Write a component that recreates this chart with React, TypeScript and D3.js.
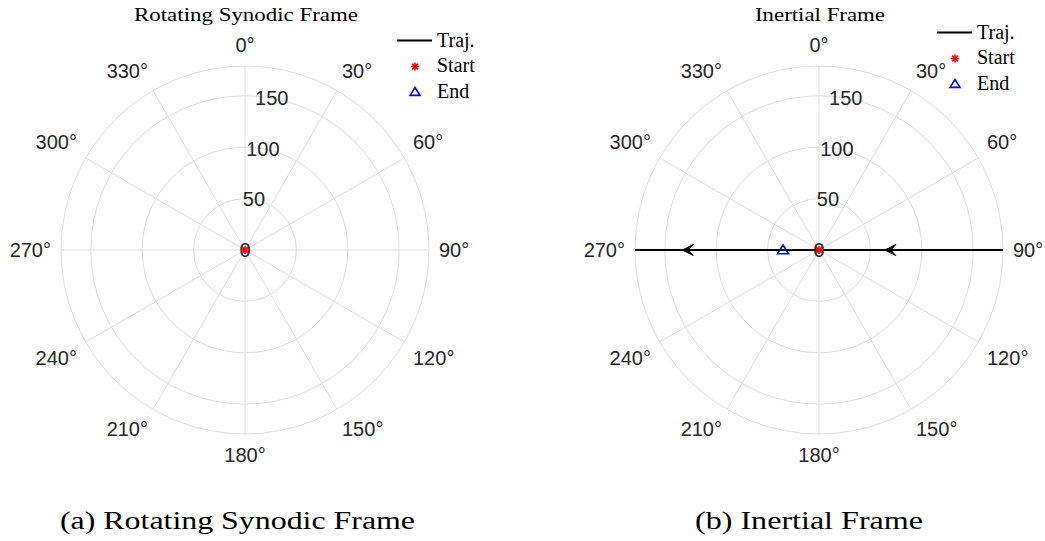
import React from "react";
import * as d3 from "d3";

// Polar grid settings shared by both panels
const R_MAX = 179;
const R_TICKS = [0, 50, 100, 150];
const THETA_TICKS = [0, 30, 60, 90, 120, 150, 180, 210, 240, 270, 300, 330];
const R_LABEL_ANGLE = 10;

// Rotating synodic frame: the trajectory stays at the origin
const synodicTheta = [0, 0];
const synodicR = [0, 0];
const synodicStart = { theta: 0, r: 0 };

// Inertial frame: straight pass along the 90°–270° axis
const inertialTheta = [90, 90, 90, 270, 270, 270];
const inertialR = [179, 90, 0, 0, 90, 179];
const inertialArrows = [
  { theta: 90, r: 64, dir: 270 },
  { theta: 270, r: 133, dir: 270 },
];
const inertialStart = { theta: 0, r: 0 };
const inertialEnd = { theta: 270, r: 35 };

const W = 1045;
const H = 541;
const RADIUS = 184;
const TICK_FONT = "'Liberation Sans', Arial, Helvetica, sans-serif";
const SERIF = "'Liberation Serif', 'Times New Roman', serif";
const TEXT = "#262626";
const GRID = "#dedede";

const rScale = d3.scaleLinear().domain([0, R_MAX]).range([0, RADIUS]);

function pt(cx: number, cy: number, thetaDeg: number, rPx: number): [number, number] {
  const a = (thetaDeg * Math.PI) / 180;
  return [cx + rPx * Math.sin(a), cy - rPx * Math.cos(a)];
}

function Asterisk({ x, y, s, color }: { x: number; y: number; s: number; color: string }) {
  const lines = [0, 45, 90, 135].map((deg) => {
    const a = (deg * Math.PI) / 180;
    return (
      <line
        key={deg}
        x1={x - s * Math.cos(a)}
        y1={y - s * Math.sin(a)}
        x2={x + s * Math.cos(a)}
        y2={y + s * Math.sin(a)}
        stroke={color}
        strokeWidth={1.6}
      />
    );
  });
  return <g>{lines}</g>;
}

function Triangle({ x, y, s, color }: { x: number; y: number; s: number; color: string }) {
  const d = `M${x},${y - s}L${x + s * 1.1},${y + s * 0.75}L${x - s * 1.1},${y + s * 0.75}Z`;
  return <path d={d} fill="none" stroke={color} strokeWidth={1.6} strokeLinejoin="miter" />;
}

type PanelProps = {
  cx: number;
  cy: number;
  title: string;
  titleLen: number;
  theta: number[];
  r: number[];
  start: { theta: number; r: number };
  end: { theta: number; r: number } | null;
  arrows: { theta: number; r: number; dir: number }[];
  legend: { x: number; y: number };
};

function PolarPanel(p: PanelProps) {
  const { cx, cy } = p;
  const line = d3
    .line<number>()
    .x((_, i) => pt(cx, cy, p.theta[i], rScale(p.r[i]))[0])
    .y((_, i) => pt(cx, cy, p.theta[i], rScale(p.r[i]))[1]);
  const trajPath = line(p.theta) || "";

  const [sx, sy] = pt(cx, cy, p.start.theta, rScale(p.start.r));
  const endPt = p.end ? pt(cx, cy, p.end.theta, rScale(p.end.r)) : null;

  return (
    <g>
      {/* rings */}
      {R_TICKS.filter((v) => v > 0).map((v) => (
        <circle key={v} cx={cx} cy={cy} r={rScale(v)} fill="none" stroke={GRID} strokeWidth={1} />
      ))}
      <circle cx={cx} cy={cy} r={RADIUS} fill="none" stroke={GRID} strokeWidth={1} />
      {/* spokes */}
      {THETA_TICKS.map((t) => {
        const [x2, y2] = pt(cx, cy, t, RADIUS);
        return <line key={t} x1={cx} y1={cy} x2={x2} y2={y2} stroke={GRID} strokeWidth={1} />;
      })}
      {/* theta labels */}
      {THETA_TICKS.map((t) => {
        const [x, y] = pt(cx, cy, t, RADIUS + 10);
        const s = Math.sin((t * Math.PI) / 180);
        const c = Math.cos((t * Math.PI) / 180);
        const anchor = s > 0.01 ? "start" : s < -0.01 ? "end" : "middle";
        const by = c > 0.01 ? y - 4 : c < -0.01 ? y + 18 : y + 7;
        return (
          <text key={t} x={x} y={by} textAnchor={anchor} fontFamily={TICK_FONT} fontSize={20} fill={TEXT}>
            {t}°
          </text>
        );
      })}
      {/* r labels */}
      {R_TICKS.map((v) => {
        const [x, y] = pt(cx, cy, R_LABEL_ANGLE, rScale(v));
        return (
          <text key={v} x={x} y={y + 7} textAnchor="middle" fontFamily={TICK_FONT} fontSize={20} fill={TEXT}>
            {v}
          </text>
        );
      })}
      {/* trajectory */}
      <path d={trajPath} fill="none" stroke="#000" strokeWidth={2} />
      {p.arrows.map((a, i) => {
        const [ax, ay] = pt(cx, cy, a.theta, rScale(a.r));
        const rot = a.dir - 90;
        return (
          <path
            key={i}
            d="M0,0L-11,-5.5L-6,0L-11,5.5Z"
            transform={`translate(${ax},${ay}) rotate(${rot})`}
            fill="#000"
            stroke="#000"
            strokeWidth={1}
            strokeLinejoin="miter"
          />
        );
      })}
      {endPt && <Triangle x={endPt[0]} y={endPt[1]} s={5} color="#0000ff" />}
      <Asterisk x={sx} y={sy} s={4} color="#ff0000" />
      {/* title */}
      <text
        x={cx + 1}
        y={20.5}
        textAnchor="middle"
        fontFamily={SERIF}
        fontSize={18}
        fill="#000"
        textLength={p.titleLen}
        lengthAdjust="spacingAndGlyphs"
      >
        {p.title}
      </text>
      {/* legend */}
      <g>
        <line x1={p.legend.x} x2={p.legend.x + 35} y1={p.legend.y} y2={p.legend.y} stroke="#000" strokeWidth={2} />
        <text x={p.legend.x + 40} y={p.legend.y + 6.5} fontFamily={SERIF} fontSize={20} fill="#000">
          Traj.
        </text>
        <Asterisk x={p.legend.x + 18} y={p.legend.y + 26} s={4} color="#ff0000" />
        <text x={p.legend.x + 40} y={p.legend.y + 31} fontFamily={SERIF} fontSize={20} fill="#000">
          Start
        </text>
        <Triangle x={p.legend.x + 18} y={p.legend.y + 51.5} s={4.5} color="#0000ff" />
        <text x={p.legend.x + 40} y={p.legend.y + 57} fontFamily={SERIF} fontSize={20} fill="#000">
          End
        </text>
      </g>
    </g>
  );
}

export default function App() {
  return (
    <svg
      width={W}
      height={H}
      viewBox={`0 0 ${W} ${H}`}
      style={{ position: "absolute", left: 0, top: 0, background: "#fff" }}
    >
      <rect width={W} height={H} fill="#fff" />
      <PolarPanel
        cx={245}
        cy={250}
        title="Rotating Synodic Frame"
        titleLen={224}
        theta={synodicTheta}
        r={synodicR}
        start={synodicStart}
        end={null}
        arrows={[]}
        legend={{ x: 397, y: 40.5 }}
      />
      <PolarPanel
        cx={819}
        cy={250}
        title="Inertial Frame"
        titleLen={130}
        theta={inertialTheta}
        r={inertialR}
        start={inertialStart}
        end={inertialEnd}
        arrows={inertialArrows}
        legend={{ x: 937, y: 32.5 }}
      />
      <text
        x={237.5}
        y={529}
        textAnchor="middle"
        fontFamily={SERIF}
        fontSize={25}
        fill="#000"
        textLength={355}
        lengthAdjust="spacingAndGlyphs"
      >
        (a) Rotating Synodic Frame
      </text>
      <text
        x={809}
        y={529}
        textAnchor="middle"
        fontFamily={SERIF}
        fontSize={25}
        fill="#000"
        textLength={228}
        lengthAdjust="spacingAndGlyphs"
      >
        (b) Inertial Frame
      </text>
    </svg>
  );
}
